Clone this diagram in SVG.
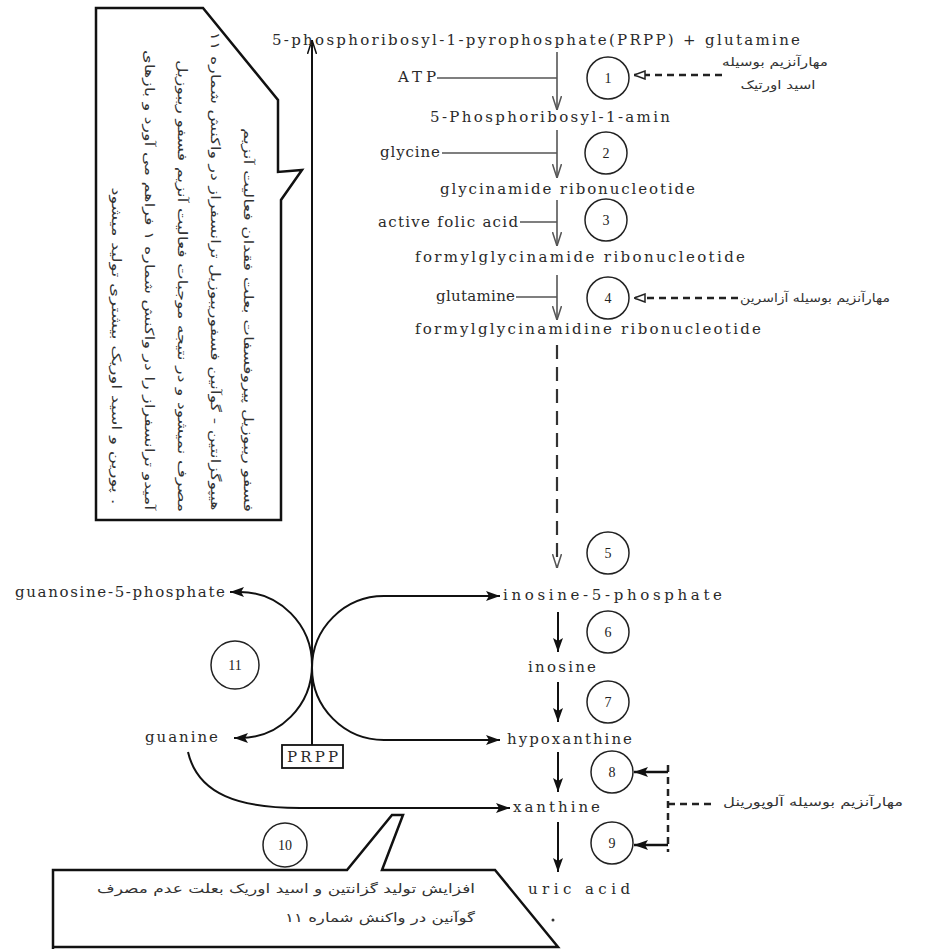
<svg xmlns="http://www.w3.org/2000/svg" width="930" height="949" viewBox="0 0 930 949">
<style>
.lbl{font-family:"DejaVu Serif","Liberation Serif",serif;font-size:15px;fill:#2a2a2a}
.num{font-family:"Liberation Serif",serif;font-size:14px;fill:#222;text-anchor:middle;dominant-baseline:central}
.fa{font-family:"DejaVu Sans","Noto Sans",sans-serif;font-size:12px;fill:#333;text-anchor:middle;dominant-baseline:central}
.fab{font-family:"DejaVu Sans","Noto Sans",sans-serif;font-size:12.5px;fill:#333;text-anchor:middle;dominant-baseline:central}
.circ{fill:#fff;stroke:#222;stroke-width:1.5}
.gl{stroke:#555;stroke-width:1.6;fill:none}
.bl{stroke:#111;stroke-width:2;fill:none}
.dash{stroke:#222;stroke-width:2.5;fill:none;stroke-dasharray:7 5}
.box{stroke:#111;stroke-width:2.5;fill:none;stroke-linejoin:miter}
</style>
<defs>
<marker id="vgrey" markerUnits="userSpaceOnUse" markerWidth="14" markerHeight="10" viewBox="0 0 14 10" refX="14" refY="5" orient="auto"><path d="M0,0.5 L14,5 L0,9.5" fill="none" stroke="#555" stroke-width="1.5"/></marker>
<marker id="vblack" markerUnits="userSpaceOnUse" markerWidth="14" markerHeight="10" viewBox="0 0 14 10" refX="14" refY="5" orient="auto"><path d="M0,0.5 L14,5 L0,9.5" fill="none" stroke="#111" stroke-width="1.5"/></marker>
<marker id="fill" markerUnits="userSpaceOnUse" markerWidth="14" markerHeight="10" viewBox="0 0 14 10" refX="14" refY="5" orient="auto"><path d="M0,0 L14,5 L0,10 L3,5 z" fill="#111"/></marker>
<marker id="inh" markerUnits="userSpaceOnUse" markerWidth="12" markerHeight="10" viewBox="0 0 12 10" refX="12" refY="5" orient="auto"><path d="M1,1 L12,5 L1,9 z" fill="#fff" stroke="#222" stroke-width="1.5"/></marker>
</defs>
<rect width="930" height="949" fill="#fff"/>

<g id="connectors">
  <line class="gl" x1="557" y1="52" x2="557" y2="110" marker-end="url(#vgrey)"/>
  <line class="gl" x1="437" y1="78" x2="557" y2="78"/>
  <line class="gl" x1="557" y1="130" x2="557" y2="178" marker-end="url(#vgrey)"/>
  <line class="gl" x1="442" y1="153" x2="557" y2="153"/>
  <line class="gl" x1="557" y1="200" x2="557" y2="246" marker-end="url(#vgrey)"/>
  <line class="gl" x1="520" y1="222" x2="557" y2="222"/>
  <line class="gl" x1="557" y1="275" x2="557" y2="320" marker-end="url(#vgrey)"/>
  <line class="gl" x1="516" y1="297" x2="557" y2="297"/>
  <line x1="557" y1="345" x2="557" y2="568" stroke="#333" stroke-width="2.2" stroke-dasharray="14 8" marker-end="url(#vgrey)"/>
  <line class="bl" x1="558" y1="612" x2="558" y2="652" marker-end="url(#fill)"/>
  <line class="bl" x1="558" y1="682" x2="558" y2="722" marker-end="url(#fill)"/>
  <line class="bl" x1="558" y1="752" x2="558" y2="792" marker-end="url(#fill)"/>
  <line class="bl" x1="558" y1="822" x2="558" y2="872" marker-end="url(#fill)"/>
  <line class="bl" x1="312" y1="745" x2="312" y2="40" stroke-width="1.8" marker-end="url(#vblack)"/>
  <path class="bl" stroke-width="1.6" d="M312 665 A72 73 0 0 0 240 592 L230 592" marker-end="url(#fill)"/>
  <path class="bl" stroke-width="1.6" d="M312 665 A72 73 0 0 1 240 738 L234 738" marker-end="url(#fill)"/>
  <path class="bl" stroke-width="1.6" d="M312 668 A72 72 0 0 1 384 596 L500 596" marker-end="url(#fill)"/>
  <path class="bl" stroke-width="1.6" d="M312 668 A72 72 0 0 0 384 740 L500 740" marker-end="url(#fill)"/>
  <path class="bl" stroke-width="1.6" d="M188 752 C198 795 240 808 300 808 L510 808" marker-end="url(#fill)"/>
  <line class="dash" x1="722" y1="75" x2="634" y2="75" marker-end="url(#inh)"/>
  <line class="dash" x1="738" y1="298" x2="634" y2="298" marker-end="url(#inh)"/>
  <line class="dash" x1="668" y1="765" x2="668" y2="852"/>
  <line class="dash" x1="668" y1="804" x2="716" y2="804"/>
  <line stroke="#111" stroke-width="2.5" x1="668" y1="772" x2="634" y2="772" marker-end="url(#fill)"/>
  <line stroke="#111" stroke-width="2.5" x1="668" y1="845" x2="634" y2="845" marker-end="url(#fill)"/>
</g>

<g id="prpp-glutamine"><text class="lbl" x="272" y="45" textLength="528" lengthAdjust="spacing">5-phosphoribosyl-1-pyrophosphate(PRPP) + glutamine</text></g>
<g id="atp"><text class="lbl" x="398" y="82" textLength="38" lengthAdjust="spacing">ATP</text></g>
<g id="pr-amin"><text class="lbl" x="430" y="122" textLength="240" lengthAdjust="spacing">5-Phosphoribosyl-1-amin</text></g>
<g id="glycine"><text class="lbl" x="380" y="157" textLength="60" lengthAdjust="spacing">glycine</text></g>
<g id="gar"><text class="lbl" x="440" y="194" textLength="255" lengthAdjust="spacing">glycinamide  ribonucleotide</text></g>
<g id="folic"><text class="lbl" x="378" y="227" textLength="140" lengthAdjust="spacing">active folic acid</text></g>
<g id="fgar"><text class="lbl" x="415" y="262" textLength="330" lengthAdjust="spacing">formylglycinamide  ribonucleotide</text></g>
<g id="glutamine2"><text class="lbl" x="436" y="301" textLength="79" lengthAdjust="spacing">glutamine</text></g>
<g id="fgam"><text class="lbl" x="415" y="334" textLength="346" lengthAdjust="spacing">formylglycinamidine  ribonucleotide</text></g>
<g id="imp"><text class="lbl" x="503" y="600" textLength="219" lengthAdjust="spacing">inosine-5-phosphate</text></g>
<g id="inosine"><text class="lbl" x="528" y="672" textLength="68" lengthAdjust="spacing">inosine</text></g>
<g id="hypoxanthine"><text class="lbl" x="507" y="744" textLength="125" lengthAdjust="spacing">hypoxanthine</text></g>
<g id="xanthine"><text class="lbl" x="513" y="812" textLength="87" lengthAdjust="spacing">xanthine</text></g>
<g id="uric"><text class="lbl" x="528" y="894" textLength="102" lengthAdjust="spacing">uric acid</text><circle cx="553" cy="920" r="1.5" fill="#333"/></g>
<g id="gmp"><text class="lbl" x="15" y="597" textLength="210" lengthAdjust="spacing">guanosine-5-phosphate</text></g>
<g id="guanine"><text class="lbl" x="145" y="742" textLength="73" lengthAdjust="spacing">guanine</text></g>
<g id="prpp-box"><rect x="282" y="745" width="61" height="23" fill="#fff" stroke="#111" stroke-width="1.8"/><text class="lbl" x="287" y="762" textLength="51" lengthAdjust="spacing">PRPP</text></g>

<g id="c1"><circle class="circ" cx="608" cy="78" r="21"/><text class="num" x="608" y="78">1</text></g>
<g id="c2"><circle class="circ" cx="606" cy="153" r="21"/><text class="num" x="606" y="153">2</text></g>
<g id="c3"><circle class="circ" cx="606" cy="220" r="21"/><text class="num" x="606" y="220">3</text></g>
<g id="c4"><circle class="circ" cx="608" cy="298" r="21"/><text class="num" x="608" y="298">4</text></g>
<g id="c5"><circle class="circ" cx="608" cy="553" r="21"/><text class="num" x="608" y="553">5</text></g>
<g id="c6"><circle class="circ" cx="608" cy="632" r="21"/><text class="num" x="608" y="632">6</text></g>
<g id="c7"><circle class="circ" cx="608" cy="702" r="21"/><text class="num" x="608" y="702">7</text></g>
<g id="c8"><circle class="circ" cx="612" cy="772" r="21"/><text class="num" x="612" y="772">8</text></g>
<g id="c9"><circle class="circ" cx="612" cy="843" r="21"/><text class="num" x="612" y="843">9</text></g>
<g id="c10"><circle class="circ" cx="285" cy="845" r="22"/><text class="num" x="285" y="845">10</text></g>
<g id="c11"><circle class="circ" cx="235" cy="665" r="24"/><text class="num" x="235" y="665">11</text></g>

<g id="inhib-1"><text class="fa" x="775" y="62" textLength="106" lengthAdjust="spacingAndGlyphs">مهارآنزیم بوسیله</text><text class="fa" x="778" y="85" textLength="75" lengthAdjust="spacingAndGlyphs">اسید اورتیک</text></g>
<g id="inhib-4"><text class="fa" x="815" y="298" textLength="150" lengthAdjust="spacingAndGlyphs">مهارآنزیم بوسیله آزاسرین</text></g>
<g id="inhib-89"><text class="fa" x="813" y="802" textLength="180" lengthAdjust="spacingAndGlyphs">مهارآنزیم بوسیله آلوپورینل</text></g>

<g id="note-top">
  <path class="box" d="M96 8 L203 8 L278 100 L278 172 L302 170 L281 200 L281 520 L96 520 Z"/>
  <text class="fab" transform="translate(248 320) rotate(90)" textLength="384" lengthAdjust="spacingAndGlyphs">فسفو ریبوزیل پیروفسفات بعلت فقدان فعالیت آنزیم</text>
  <text class="fab" transform="translate(215 271) rotate(90)" textLength="479" lengthAdjust="spacingAndGlyphs">هیپوگزانتین - گوآنین فسفوریبوزیل ترانسفراز در واکنش شماره ۱۱</text>
  <text class="fab" transform="translate(182 286) rotate(90)" textLength="452" lengthAdjust="spacingAndGlyphs">مصرف نمیشود و در نتیجه موجبات فعالیت آنزیم فسفو ریبوزیل</text>
  <text class="fab" transform="translate(149 280) rotate(90)" textLength="460" lengthAdjust="spacingAndGlyphs">آمیدو ترانسفراز را در واکنش شماره ۱ فراهم می آورد و بازهای</text>
  <text class="fab" transform="translate(116 346) rotate(90)" textLength="317" lengthAdjust="spacingAndGlyphs">پورین و اسید اوریک بیشتری تولید میشود .</text>
</g>

<g id="note-bottom">
  <path class="box" d="M53 949 L53 870 L347 870 L392 815 L403 815 L382 870 L495 870 L558 947 L53 947"/>
  <text class="fab" x="286" y="888" textLength="378" lengthAdjust="spacingAndGlyphs">افزایش تولید گزانتین و اسید اوریک بعلت عدم مصرف</text>
  <text class="fab" x="380" y="917" textLength="190" lengthAdjust="spacingAndGlyphs">گوآنین در واکنش شماره ۱۱</text>
</g>
</svg>
